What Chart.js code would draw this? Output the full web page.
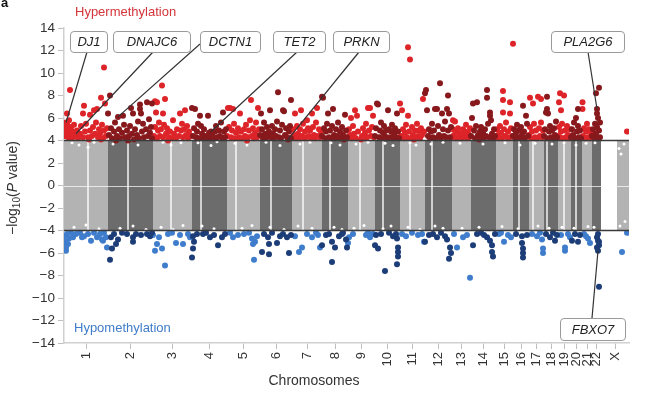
<!DOCTYPE html>
<html><head><meta charset="utf-8">
<script src="https://cdn.jsdelivr.net/npm/chart.js@4"></script>
<style>html,body{margin:0;padding:0;background:#fff}#wrap{width:650px;height:399px;position:relative}</style>
</head><body><div id="wrap"><canvas id="c" width="650" height="399"></canvas></div>
<script>
// ---------------- DATA ----------------
const chromosomes = ['1','2','3','4','5','6','7','8','9','10','11','12','13','14','15','16','17','18','19','20','21','22','X'];
// relative chromosome widths (probe coverage units)
const chromLength = [44,45,39,35,33,32,30,26,27,25,25,27,19,25,17,16,15,14,13,11,10,9,28];
// centromere position within each chromosome (0 = none shown)
const centromere = [24,20,18,9,9,11,11,8,12,8,10,7,0,0,0,6,4,3,6,5,0,0,0];
// first covered position within each chromosome
const coverageStart = [0,0,0,0,0,0,0,0,0,0,0,0,0,0,0,0,0,0,0,0,0,0,16];
const yTickValues = [-14,-12,-10,-8,-6,-4,-2,0,2,4,6,8,10,12,14];
const threshold = 4;

// [chromosome, position in chromosome, -log10(P)] hypermethylated CpGs
const hyperPoints = [
[1,1,4.4],[1,1,5.2],[1,2,4.8],[1,2,5.6],[1,3,5.5],[1,4,4.3],[1,4,5.0],[1,5,5.8],[1,6,4.6],[1,6,8.5],[1,7,5.2],[1,8,4.2],[1,9,4.8],[1,10,5.4],[1,11,4.4],[1,12,4.6],[1,13,4.9],[1,14,4.2],[1,16,4.6],[1,17,5.3],[1,19,4.3],[1,19,6.4],[1,20,7.1],[1,21,4.8],[1,22,5.5],[1,24,4.3],[1,26,4.9],[1,26,6.3],[1,28,4.4],[1,29,5.2],[1,30,6.7],[1,31,4.6],[1,32,5.6],[1,33,6.8],[1,34,4.3],[1,35,5.0],[1,36,4.6],[1,37,7.8],[1,38,5.4],[1,39,4.2],[1,40,4.9],[1,40,10.5],[1,41,7.3],[1,42,4.4],[1,43,5.1],[1,3,6.4],[1,25,4.1],[1,37,4.1],
[2,0,6.4],[2,1,4.5],[2,2,8.0],[2,3,5.1],[2,4,4.2],[2,6,4.8],[2,7,5.6],[2,9,4.4],[2,10,6.1],[2,11,5.0],[2,12,4.2],[2,14,4.7],[2,15,6.2],[2,16,5.4],[2,17,4.3],[2,19,4.9],[2,21,4.4],[2,22,5.3],[2,23,6.9],[2,24,4.6],[2,25,6.4],[2,26,4.1],[2,27,5.0],[2,29,4.5],[2,30,5.7],[2,31,4.2],[2,32,6.8],[2,32,7.2],[2,33,6.4],[2,34,4.8],[2,35,5.5],[2,36,4.3],[2,38,5.0],[2,39,7.4],[2,40,4.4],[2,41,5.9],[2,42,4.7],[2,43,5.2],[2,44,4.2],[2,44,7.3],[2,20,4.0],[2,8,4.0],
[3,1,4.4],[3,2,5.2],[3,2,7.5],[3,3,6.5],[3,4,4.2],[3,4,7.4],[3,5,4.9],[3,6,5.6],[3,7,4.4],[3,8,5.0],[3,9,8.9],[3,10,4.3],[3,10,6.4],[3,11,5.4],[3,12,7.7],[3,13,4.6],[3,14,5.1],[3,16,4.3],[3,17,4.8],[3,19,4.2],[3,20,5.8],[3,21,4.6],[3,23,4.2],[3,24,5.0],[3,26,4.4],[3,27,6.4],[3,28,4.9],[3,29,5.5],[3,30,4.3],[3,31,5.0],[3,32,6.7],[3,33,4.5],[3,34,5.3],[3,35,4.2],[3,36,4.8],[3,38,4.4],[3,15,4.0],
[4,0,6.9],[4,1,4.4],[4,2,5.1],[4,3,6.8],[4,4,4.3],[4,5,4.8],[4,6,5.5],[4,7,4.2],[4,8,6.2],[4,9,5.3],[4,10,4.6],[4,11,4.2],[4,12,5.0],[4,13,4.4],[4,15,4.3],[4,16,6.2],[4,17,4.7],[4,18,4.2],[4,19,4.8],[4,20,4.5],[4,22,4.2],[4,23,4.8],[4,24,5.3],[4,25,4.3],[4,27,4.9],[4,28,4.4],[4,29,5.6],[4,30,4.2],[4,31,6.5],[4,32,4.8],[4,33,4.3],[4,34,5.0],
[5,0,4.4],[5,1,6.9],[5,2,5.2],[5,3,6.9],[5,4,4.3],[5,5,4.9],[5,6,6.8],[5,7,5.5],[5,8,4.2],[5,9,4.7],[5,11,5.1],[5,12,4.3],[5,13,6.4],[5,14,4.8],[5,15,4.2],[5,17,5.0],[5,18,4.4],[5,19,5.4],[5,21,4.3],[5,22,4.9],[5,23,5.8],[5,24,7.6],[5,25,4.4],[5,26,5.1],[5,27,4.2],[5,28,4.7],[5,29,5.6],[5,30,4.3],[5,31,6.9],[5,32,5.0],[5,20,4.0],
[6,0,4.5],[6,1,6.4],[6,2,5.0],[6,3,4.2],[6,4,5.6],[6,5,4.6],[6,6,4.2],[6,7,5.2],[6,8,4.4],[6,9,4.8],[6,10,6.7],[6,11,4.3],[6,12,5.3],[6,13,4.6],[6,14,4.2],[6,15,5.0],[6,16,4.4],[6,17,5.7],[6,18,8.3],[6,19,4.3],[6,20,4.9],[6,21,4.2],[6,22,5.4],[6,23,6.7],[6,24,6.6],[6,25,4.5],[6,26,5.1],[6,27,4.3],[6,28,4.1],[6,29,4.8],[6,30,5.3],[6,31,7.6],[6,31,4.2],
[7,0,4.3],[7,1,5.0],[7,2,4.5],[7,3,6.4],[7,4,4.2],[7,5,5.3],[7,6,4.6],[7,7,4.2],[7,8,5.0],[7,9,6.7],[7,10,4.4],[7,11,5.5],[7,12,4.2],[7,13,4.8],[7,14,4.3],[7,15,5.8],[7,16,5.1],[7,17,4.4],[7,18,4.9],[7,19,4.2],[7,20,6.4],[7,21,5.2],[7,22,4.5],[7,23,4.2],[7,24,5.6],[7,25,6.9],[7,26,4.4],[7,27,5.0],[7,28,4.3],[7,29,4.8],
[8,0,4.4],[8,0,7.9],[8,1,7.8],[8,2,5.1],[8,3,4.2],[8,4,4.8],[8,5,5.5],[8,6,6.4],[8,7,4.3],[8,8,4.9],[8,9,4.2],[8,10,5.3],[8,11,6.8],[8,12,4.5],[8,13,4.2],[8,14,5.0],[8,15,4.4],[8,16,5.6],[8,17,4.3],[8,18,4.8],[8,19,4.2],[8,20,5.2],[8,21,4.5],[8,22,4.1],[8,23,6.3],[8,24,4.9],[8,25,4.3],
[9,0,4.3],[9,1,5.0],[9,2,4.5],[9,3,6.0],[9,4,4.2],[9,5,5.3],[9,6,4.6],[9,7,6.7],[9,8,4.2],[9,9,6.2],[9,10,4.8],[9,13,4.1],[9,14,4.4],[9,15,5.1],[9,16,4.2],[9,17,4.7],[9,18,5.5],[9,19,4.3],[9,20,6.9],[9,21,4.9],[9,22,6.9],[9,23,4.4],[9,24,5.2],[9,25,6.2],[9,26,4.3],
[10,0,4.4],[10,1,5.1],[10,2,7.3],[10,3,7.2],[10,4,4.3],[10,5,4.9],[10,6,5.6],[10,7,4.2],[10,8,4.7],[10,9,5.3],[10,10,4.4],[10,11,4.9],[10,12,4.2],[10,13,6.7],[10,14,5.0],[10,15,4.3],[10,16,4.8],[10,17,5.4],[10,18,4.2],[10,19,4.6],[10,20,5.1],[10,21,4.3],[10,22,6.4],[10,23,4.8],[10,24,4.2],
[11,0,7.3],[11,1,4.4],[11,2,6.7],[11,3,5.0],[11,4,4.2],[11,5,4.7],[11,6,5.4],[11,7,4.3],[11,8,12.3],[11,8,6.2],[11,9,4.8],[11,10,11.2],[11,11,4.2],[11,12,5.2],[11,13,4.5],[11,14,4.1],[11,15,4.9],[11,16,4.3],[11,17,5.5],[11,18,4.4],[11,19,4.9],[11,20,4.2],[11,21,5.1],[11,22,4.5],[11,23,7.7],[11,24,4.8],
[12,0,8.2],[12,1,8.5],[12,2,6.7],[12,3,4.4],[12,4,5.0],[12,5,4.2],[12,6,4.8],[12,7,5.5],[12,8,4.3],[12,9,4.9],[12,10,6.8],[12,11,4.2],[12,12,6.8],[12,13,5.3],[12,14,4.5],[12,15,9.1],[12,16,4.2],[12,17,6.4],[12,18,5.0],[12,19,4.4],[12,20,5.7],[12,21,4.3],[12,22,6.8],[12,23,8.0],[12,23,4.9],[12,24,6.4],[12,25,4.3],[12,26,5.2],
[13,0,4.3],[13,1,5.0],[13,1,5.8],[13,2,4.5],[13,3,5.7],[13,4,4.2],[13,5,4.8],[13,6,5.1],[13,7,4.3],[13,8,4.6],[13,10,4.2],[13,11,5.0],[13,12,4.4],[13,13,4.8],[13,14,5.4],[13,15,4.2],[13,16,4.7],[13,17,4.3],[13,18,5.1],
[14,0,4.4],[14,1,6.0],[14,2,7.3],[14,3,4.9],[14,4,4.2],[14,5,5.3],[14,6,7.4],[14,7,4.5],[14,8,4.1],[14,9,4.8],[14,10,5.2],[14,11,4.3],[14,12,4.7],[14,13,4.2],[14,14,5.0],[14,15,4.4],[14,16,8.5],[14,16,7.8],[14,17,5.5],[14,18,4.3],[14,19,6.5],[14,19,6.2],[14,20,5.8],[14,21,4.6],[14,22,4.2],[14,23,5.0],[14,24,4.4],
[15,0,4.3],[15,1,5.0],[15,2,4.5],[15,3,4.2],[15,4,5.3],[15,5,4.7],[15,6,4.2],[15,7,8.4],[15,7,7.6],[15,7,6.5],[15,8,5.0],[15,9,4.4],[15,10,5.6],[15,11,4.3],[15,12,4.8],[15,13,4.2],[15,14,7.4],[15,14,6.4],[15,15,5.1],[15,16,4.4],[15,17,12.6],
[16,0,4.4],[16,1,5.0],[16,2,4.2],[16,3,4.7],[16,4,5.4],[16,5,4.3],[16,6,4.9],[16,7,4.2],[16,8,5.2],[16,9,4.5],[16,10,7.1],[16,11,4.8],[16,12,4.2],[16,13,6.2],[16,14,5.5],[16,15,4.4],
[17,0,4.5],[17,1,5.2],[17,1,7.8],[17,2,4.2],[17,3,4.8],[17,4,7.3],[17,5,5.5],[17,6,4.3],[17,7,4.9],[17,8,4.2],[17,9,7.9],[17,10,5.1],[17,11,4.4],[17,12,5.6],[17,12,7.7],[17,13,4.3],[17,14,4.9],
[18,0,4.4],[18,1,5.0],[18,2,6.5],[18,3,4.2],[18,3,6.8],[18,3,7.9],[18,4,6.4],[18,5,4.8],[18,6,5.3],[18,7,4.3],[18,8,4.9],[18,9,4.2],[18,10,5.1],[18,11,4.5],[18,12,5.7],[18,13,4.3],
[19,0,4.4],[19,1,5.2],[19,1,7.4],[19,2,8.2],[19,2,4.3],[19,3,4.8],[19,3,6.7],[19,4,5.5],[19,5,4.2],[19,6,8.0],[19,7,4.9],[19,8,4.3],[19,9,5.3],[19,10,4.5],[19,11,4.2],[19,12,5.0],
[20,0,4.3],[20,1,5.0],[20,2,4.5],[20,3,5.6],[20,4,4.2],[20,5,6.0],[20,6,4.8],[20,7,5.3],[20,7,6.8],[20,8,4.3],[20,9,4.9],[20,10,4.2],
[21,0.5,7.4],[21,0.5,6.8],[21,1,4.4],[21,2,5.1],[21,3,4.2],[21,4,4.8],[21,5,5.5],[21,6,4.3],[21,7,5.0],[21,8,4.2],[21,9,4.7],
[22,0,4.4],[22,1,5.0],[22,2,4.3],[22,3,5.5],[22,4,4.6],[22,4,8.2],[22,5,5.2],[22,5,6.8],[22,5,6.4],[22,6,4.2],[22,6,6.0],[22,7,4.9],[22,7,8.7],[22,8,5.6],[22,8,4.3],
[23,26,4.8]
];

// [chromosome, position, log10(P)] hypomethylated CpGs
const hypoPoints = [
[1,0,-4.5],[1,1,-5.0],[1,1,-5.3],[1,2,-5.5],[1,2,-5.8],[1,3,-4.3],[1,4,-5.2],[1,5,-4.7],[1,7,-4.2],[1,9,-4.6],[1,12,-4.3],[1,16,-4.2],[1,18,-4.6],[1,20,-4.5],[1,24,-4.3],[1,27,-4.9],[1,30,-4.2],[1,33,-4.6],[1,36,-4.3],[1,38,-4.8],[1,39,-4.9],[1,40,-4.2],[1,42,-4.6],[1,43,-5.5],
[2,2,-6.6],[2,3,-4.6],[2,4,-5.6],[2,6,-4.3],[2,8,-5.2],[2,10,-4.8],[2,14,-4.2],[2,19,-4.3],[2,25,-4.6],[2,25,-5.0],[2,28,-4.3],[2,33,-4.4],[2,39,-4.3],[2,42,-4.5],[2,44,-4.2],
[3,0,-4.4],[3,2,-5.8],[3,4,-5.2],[3,6,-4.6],[3,9,-5.6],[3,12,-7.1],[3,15,-4.3],[3,19,-4.2],[3,23,-5.1],[3,27,-4.4],[3,30,-5.2],[3,35,-4.3],[3,37,-4.6],
[4,0,-6.4],[4,1,-5.6],[4,2,-5.0],[4,1,-4.5],[4,5,-4.3],[4,11,-4.3],[4,14,-4.2],[4,18,-4.6],[4,22,-4.4],[4,26,-5.3],[4,30,-4.6],[4,33,-4.3],
[5,3,-4.2],[5,6,-4.6],[5,11,-4.4],[5,17,-4.3],[5,22,-4.2],[5,25,-4.7],[5,26,-5.2],[5,27,-6.6],[5,28,-5.0],[5,30,-4.5],
[6,2,-5.9],[6,4,-4.3],[6,8,-4.6],[6,9,-6.1],[6,9,-5.2],[6,12,-4.2],[6,17,-5.1],[6,20,-4.5],[6,23,-4.3],[6,27,-4.6],[6,29,-6.0],[6,31,-4.4],
[7,3,-4.5],[7,7,-5.9],[7,10,-5.5],[7,15,-4.3],[7,20,-4.6],[7,24,-4.2],[7,26,-4.4],[7,28,-5.5],
[8,0,-5.3],[8,4,-4.4],[8,7,-4.3],[8,10,-5.0],[8,10,-6.8],[8,13,-5.5],[8,17,-4.5],[8,20,-4.3],[8,21,-4.2],[8,24,-4.8],[8,25,-5.5],
[9,0,-5.1],[9,1,-4.6],[9,5,-4.3],[9,18,-4.4],[9,20,-4.2],[9,22,-4.6],[9,25,-4.3],
[10,0,-5.3],[10,1,-4.4],[10,3,-5.6],[10,6,-4.3],[10,10,-7.6],[10,14,-4.2],[10,18,-4.5],[10,21,-4.3],[10,22,-4.7],[10,23,-5.5],[10,23,-5.9],[10,23,-6.3],[10,22,-7.0],
[11,2,-4.3],[11,6,-4.5],[11,12,-4.2],[11,18,-4.4],[11,22,-4.3],[11,24,-5.0],
[12,0,-5.0],[12,4,-4.4],[12,8,-4.3],[12,12,-4.6],[12,16,-4.2],[12,20,-4.5],[12,22,-4.8],[12,25,-5.5],[12,26,-6.0],[12,24,-6.5],
[13,2,-4.3],[13,5,-5.5],[13,11,-4.6],[13,15,-4.4],[13,18,-8.2],
[14,2,-5.3],[14,6,-4.3],[14,10,-4.2],[14,13,-4.4],[14,16,-4.6],[14,19,-4.9],[14,21,-5.3],[14,21,-5.9],[14,22,-6.3],[14,24,-4.3],
[15,3,-4.3],[15,5,-4.2],[15,8,-5.0],[15,12,-4.4],[15,15,-4.6],
[16,3,-4.3],[16,9,-4.5],[16,9,-5.1],[16,10,-5.6],[16,10,-6.0],[16,10,-6.4],[16,14,-4.4],
[17,3,-4.3],[17,8,-4.5],[17,11,-4.2],[17,13,-4.8],[17,14,-5.6],[17,14,-6.0],
[18,2,-4.3],[18,6,-4.6],[18,9,-4.2],[18,11,-4.9],[18,13,-4.4],
[19,3,-4.4],[19,7,-5.5],[19,7,-5.8],[19,10,-4.3],[19,12,-4.6],
[20,1,-4.9],[20,4,-4.3],[20,7,-5.0],[20,9,-4.4],
[21,2,-4.3],[21,4,-4.5],[21,6,-4.7],[21,8,-5.1],
[22,5,-4.6],[22,5,-5.5],[22,6,-4.3],[22,6,-4.9],[22,6,-5.8],[22,7,-5.3],[22,7,-5.0],[22,7,-9.0],
[23,21,-5.9],[23,26,-4.2]
];

// sparse non-significant CpGs near the band edges
const sparsePoints = [
[1,8,3.8],[1,15,3.6],[1,30,3.85],[1,24,3.4],[1,10,-3.7],[1,22,-3.5],[1,35,-3.85],
[2,5,3.7],[2,20,3.9],[2,30,3.6],[2,12,-3.8],[2,25,-3.6],[2,38,-3.9],
[3,10,3.85],[3,18,3.6],[3,28,3.8],[3,8,-3.7],[3,20,-3.9],[3,30,-3.55],
[4,6,3.8],[4,19,3.55],[4,25,3.9],[4,10,-3.6],[4,22,-3.85],
[5,8,3.75],[5,20,3.6],[5,15,-3.8],[5,25,-3.55],
[6,6,3.85],[6,20,3.55],[6,10,-3.7],[6,24,-3.9],
[7,8,3.7],[7,18,3.85],[7,6,-3.6],[7,20,-3.8],
[8,9,3.8],[8,18,3.6],[8,12,-3.7],[8,20,-3.9],
[9,8,3.7],[9,20,3.85],[9,6,-3.8],[9,16,-3.55],
[10,10,3.75],[10,18,3.55],[10,8,-3.85],[10,16,-3.6],
[11,10,3.8],[11,16,3.6],[11,8,-3.7],[11,20,-3.9],
[12,6,3.7],[12,18,3.85],[12,10,-3.6],[12,18,-3.8],
[13,8,3.75],[13,10,-3.8],[14,12,3.7],[14,8,-3.7],[15,9,3.8],[15,6,-3.65],[16,7,3.6],[16,5,-3.85],
[17,6,3.75],[17,9,-3.6],[18,8,3.7],[18,5,-3.8],[19,6,3.8],[19,4,-3.7],[20,5,3.6],[20,3,-3.8],
[21,4,3.75],[21,6,-3.65],[22,3,3.8],[22,2,-3.7],
[23,18,3.3],[23,20,2.8],[23,23,3.7],[23,19,-3.6],[23,24,-3.2]
];

// gene annotations
const geneNames = ['DJ1','DNAJC6','DCTN1','TET2','PRKN','PLA2G6','FBXO7'];
const geneChr = [1,1,2,4,6,22,22];
const genePos = [2,12,10,19,28,5,6];
const geneVal = [5.6,4.6,6.1,4.8,4.1,6.8,-5.8];

// ---------------- BUILD ----------------
const chromStart = [];
let acc = 0;
chromLength.forEach(l => { chromStart.push(acc); acc += l; });
const genomeLength = acc;
const chromCenter = chromLength.map((l, i) => chromStart[i] + l / 2);
const toXY = p => ({ x: chromStart[p[0] - 1] + p[1], y: p[2] });
const isOdd = p => p[0] % 2 === 1;

const FONT = "'Liberation Sans', Arial, Helvetica, sans-serif";
const COLORS = {
  bandLight: '#b3b3b3', bandDark: '#6c6c6c',
  redBright: '#dd2429', redDark: '#87191d',
  blueLight: '#3f7dcc', blueDark: '#1c3d77'
};

const bandsPlugin = {
  id: 'bands',
  beforeDatasetsDraw(chart) {
    const { ctx, chartArea: a, scales: { x, y } } = chart;
    ctx.save();
    ctx.beginPath(); ctx.rect(a.left, a.top, a.right - a.left, a.bottom - a.top); ctx.clip();
    const yt = y.getPixelForValue(threshold), yb = y.getPixelForValue(-threshold);
    chromLength.forEach((len, i) => {
      const x0 = x.getPixelForValue(chromStart[i] + coverageStart[i]);
      const x1 = x.getPixelForValue(chromStart[i] + len);
      ctx.fillStyle = i % 2 === 0 ? COLORS.bandLight : COLORS.bandDark;
      ctx.fillRect(Math.round(x0), yt, Math.round(x1) - Math.round(x0), yb - yt);
      if (centromere[i] > 0) {
        const xc = x.getPixelForValue(chromStart[i] + centromere[i]);
        ctx.fillStyle = 'rgba(255,255,255,0.85)';
        ctx.fillRect(xc - 0.8, yt, 1.6, yb - yt);
      }
    });
    const y0 = y.getPixelForValue(0);
    ctx.strokeStyle = 'rgba(255,255,255,0.7)';
    ctx.lineWidth = 1;
    ctx.beginPath(); ctx.moveTo(a.left, Math.round(y0) + 0.5); ctx.lineTo(a.right, Math.round(y0) + 0.5); ctx.stroke();
    ctx.restore();
  }
};

// label box layout (pixels): box rect + leader-line anchor on box
const boxLayout = [
  { x: 70, y: 31, w: 37, h: 21, ax: 87, ay: 52 },
  { x: 113, y: 31, w: 77, h: 21, ax: 153, ay: 52 },
  { x: 200, y: 31, w: 60, h: 21, ax: 200, ay: 44 },
  { x: 273, y: 31, w: 52, h: 21, ax: 297, ay: 52 },
  { x: 333, y: 31, w: 56, h: 21, ax: 359, ay: 52 },
  { x: 551, y: 31, w: 73, h: 21, ax: 588, ay: 52 },
  { x: 560, y: 318, w: 65, h: 22, ax: 592, ay: 318 }
];

function roundRect(ctx, x, y, w, h, r) {
  ctx.beginPath();
  ctx.moveTo(x + r, y); ctx.lineTo(x + w - r, y); ctx.quadraticCurveTo(x + w, y, x + w, y + r);
  ctx.lineTo(x + w, y + h - r); ctx.quadraticCurveTo(x + w, y + h, x + w - r, y + h);
  ctx.lineTo(x + r, y + h); ctx.quadraticCurveTo(x, y + h, x, y + h - r);
  ctx.lineTo(x, y + r); ctx.quadraticCurveTo(x, y, x + r, y); ctx.closePath();
}

const overlayPlugin = {
  id: 'overlay',
  afterDatasetsDraw(chart) {
    const { ctx, chartArea: a, scales: { x, y } } = chart;
    ctx.save();
    ctx.strokeStyle = '#3a3a3a'; ctx.lineWidth = 1.3;
    [threshold, -threshold].forEach(v => {
      const py = y.getPixelForValue(v);
      ctx.beginPath(); ctx.moveTo(a.left, py); ctx.lineTo(a.right, py); ctx.stroke();
    });
    geneNames.forEach((g, i) => {
      const b = boxLayout[i];
      const px = x.getPixelForValue(chromStart[geneChr[i] - 1] + genePos[i]);
      const py = y.getPixelForValue(geneVal[i]);
      ctx.strokeStyle = '#333'; ctx.lineWidth = 1.2;
      ctx.beginPath(); ctx.moveTo(b.ax, b.ay); ctx.lineTo(px, py); ctx.stroke();
      roundRect(ctx, b.x + 0.5, b.y + 0.5, b.w, b.h, 3.5);
      ctx.fillStyle = '#fff'; ctx.fill();
      ctx.strokeStyle = '#9a9a9a'; ctx.lineWidth = 1; ctx.stroke();
      ctx.fillStyle = '#222';
      ctx.font = `italic 13px ${FONT}`;
      ctx.textAlign = 'center'; ctx.textBaseline = 'middle';
      ctx.fillText(g, b.x + b.w / 2 + 0.5, b.y + b.h / 2 + 1);
    });
    ctx.restore();
  },
  afterDraw(chart) {
    const { ctx } = chart;
    ctx.save();
    ctx.textBaseline = 'middle';
    ctx.font = `13px ${FONT}`;
    ctx.textAlign = 'left';
    ctx.fillStyle = '#d4343a';
    ctx.fillText('Hypermethylation', 75, 12);
    ctx.fillStyle = '#3f7cc9';
    ctx.fillText('Hypomethylation', 74, 328);
    ctx.fillStyle = '#333';
    ctx.font = `14px ${FONT}`;
    ctx.textAlign = 'center';
    ctx.fillText('Chromosomes', 314, 381);
    ctx.font = `bold 13px ${FONT}`;
    ctx.textAlign = 'left';
    ctx.fillStyle = '#111';
    ctx.fillText('a', 1, 3);
    ctx.translate(13, 188);
    ctx.rotate(-Math.PI / 2);
    const parts = [
      { t: '\u2212log', f: `14px ${FONT}`, dy: 0 },
      { t: '10', f: `10px ${FONT}`, dy: 4 },
      { t: '(', f: `14px ${FONT}`, dy: 0 },
      { t: 'P', f: `italic 14px ${FONT}`, dy: 0 },
      { t: ' value)', f: `14px ${FONT}`, dy: 0 }
    ];
    let total = 0;
    parts.forEach(p => { ctx.font = p.f; p.w = ctx.measureText(p.t).width; total += p.w; });
    let cx = -total / 2;
    ctx.fillStyle = '#333'; ctx.textAlign = 'left'; ctx.textBaseline = 'middle';
    parts.forEach(p => { ctx.font = p.f; ctx.fillText(p.t, cx, p.dy); cx += p.w; });
    ctx.restore();
  }
};

const ptStyle = (color) => ({
  backgroundColor: color, borderColor: color, pointRadius: 3, pointBorderWidth: 0, pointHoverRadius: 3
});

new Chart(document.getElementById('c'), {
  type: 'scatter',
  data: {
    datasets: [
      { label: 'hyper-even', data: hyperPoints.filter(p => !isOdd(p)).map(toXY), ...ptStyle(COLORS.redDark), order: 1 },
      { label: 'hyper-odd', data: hyperPoints.filter(isOdd).map(toXY), ...ptStyle(COLORS.redBright), order: 2 },
      { label: 'hypo-even', data: hypoPoints.filter(p => !isOdd(p)).map(toXY), ...ptStyle(COLORS.blueDark), order: 3 },
      { label: 'hypo-odd', data: hypoPoints.filter(isOdd).map(toXY), ...ptStyle(COLORS.blueLight), order: 4 },
      { label: 'sparse', data: sparsePoints.map(toXY), backgroundColor: '#ffffff', borderColor: '#ffffff', pointRadius: 1.5, pointBorderWidth: 0, order: 5 }
    ]
  },
  options: {
    responsive: false,
    animation: false,
    devicePixelRatio: 1,
    events: [],
    layout: { padding: { left: 0, right: 21, top: 28, bottom: 0 } },
    plugins: { legend: { display: false }, tooltip: { enabled: false }, title: { display: false } },
    scales: {
      x: {
        type: 'linear', min: 0, max: genomeLength,
        afterBuildTicks: s => { s.ticks = chromCenter.map(v => ({ value: v })); },
        afterFit: s => { s.height = 56; },
        ticks: {
          autoSkip: false, maxRotation: 90, minRotation: 90, padding: 3,
          color: '#333', font: { family: FONT, size: 13 },
          callback: (v, i) => chromosomes[i]
        },
        grid: { display: true, drawOnChartArea: false, drawTicks: true, tickLength: 6, color: '#bdbdbd' },
        border: { display: true, color: '#d0d0d0', width: 1.5 }
      },
      y: {
        min: -14, max: 14,
        afterBuildTicks: s => { s.ticks = yTickValues.map(v => ({ value: v })); },
        afterFit: s => { s.width = 64; },
        ticks: {
          padding: 3, color: '#333', font: { family: FONT, size: 13.5 },
          callback: v => (v < 0 ? '\u2212' + Math.abs(v) : String(v))
        },
        grid: { display: true, drawOnChartArea: false, drawTicks: true, tickLength: 6, color: '#bdbdbd' },
        border: { display: true, color: '#d0d0d0', width: 1.5 }
      }
    }
  },
  plugins: [bandsPlugin, overlayPlugin]
});
</script></body></html>
